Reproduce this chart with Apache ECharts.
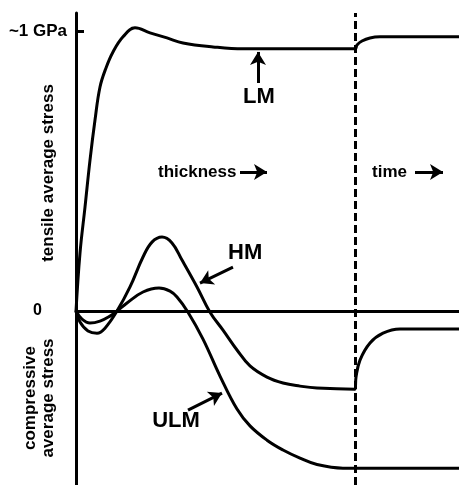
<!DOCTYPE html>
<html>
<head>
<meta charset="utf-8">
<script src="https://cdn.jsdelivr.net/npm/echarts@6/dist/echarts.min.js"></script>
<style>
  html, body { margin: 0; padding: 0; background: #fff; }
  #chart { width: 459px; height: 485px; }
</style>
</head>
<body>
<div id="chart"></div>
<script>
// x: growth (thickness, then time after the dashed line), arbitrary units
// y: average stress in GPa (positive = tensile)
var lmCurve = [
  [0, 0], [4, 0.207], [9, 0.371], [14, 0.539], [19, 0.682], [24, 0.800],
  [30, 0.868], [37, 0.925], [47, 0.979], [59, 1.011], [74, 0.993], [91, 0.975],
  [107, 0.957], [137, 0.943], [167, 0.936], [279, 0.936],
  [281, 0.95], [286, 0.964], [294, 0.975], [304, 0.979], [383, 0.979]
];
var hmCurve = [
  [0, 0], [4, -0.039], [12, -0.071], [21, -0.079], [29, -0.061], [41, 0],
  [54, 0.086], [67, 0.193], [76, 0.246], [86, 0.264], [96, 0.243], [106, 0.182],
  [121, 0.086], [134, -0.004], [147, -0.068], [161, -0.139], [174, -0.196],
  [191, -0.236], [207, -0.257], [224, -0.268], [241, -0.275], [279, -0.279],
  [280, -0.236], [284, -0.175], [294, -0.114], [307, -0.079], [324, -0.064], [383, -0.064]
];
var ulmCurve = [
  [0, 0], [6, -0.029], [14, -0.043], [24, -0.036], [34, -0.018], [41, 0],
  [51, 0.029], [67, 0.068], [83, 0.082], [94, 0.071], [101, 0.05], [112, -0.004],
  [127, -0.100], [144, -0.232], [161, -0.350], [174, -0.410], [191, -0.461],
  [207, -0.496], [224, -0.525], [241, -0.548], [267, -0.561], [383, -0.561]
];
var thicknessEnd = 279;
var yTicks = [0, 1];

var font = 'Liberation Sans, Arial, sans-serif';

// arrows pointing at the curves / along the axes: [from, to]
var arrows = [
  [[182, 0.814], [182, 0.925]],    // LM
  [[157, 0.157], [124, 0.100]],    // HM
  [[112, -0.354], [146, -0.293]],  // ULM
  [[164, 0.496], [191, 0.496]],    // thickness
  [[339, 0.496], [367, 0.496]]     // time
];

function curve(name, data) {
  return {
    name: name,
    type: 'line',
    data: data,
    smooth: 0.4,
    symbol: 'none',
    lineStyle: { color: '#000', width: 3 },
    z: 3
  };
}

function txt(text, x, y, size, rot, align) {
  return {
    type: 'text',
    x: x, y: y,
    rotation: rot || 0,
    style: {
      text: text,
      fill: '#000',
      font: 'bold ' + size + 'px ' + font,
      textAlign: align || 'center',
      textVerticalAlign: 'middle'
    }
  };
}

var chart = echarts.init(document.getElementById('chart'));
var lm = curve('LM', lmCurve);
lm.markLine = {
  silent: true,
  symbol: 'none',
  label: { show: false },
  lineStyle: { color: '#000', width: 3, type: [8, 4] },
  data: [{ xAxis: thicknessEnd }]
};
var hm = curve('HM', hmCurve);
hm.markLine = {
  silent: true,
  symbol: ['none', 'arrow'],
  symbolSize: [12, 13],
  label: { show: false },
  lineStyle: { color: '#000', width: 3, type: 'solid' },
  data: arrows.map(function (a) {
    return [{ coord: a[0] }, { coord: a[1] }];
  })
};

chart.setOption({
  animation: false,
  backgroundColor: '#fff',
  grid: { left: 76, right: 0, top: 13, bottom: 0 },
  xAxis: {
    type: 'value',
    min: 0,
    max: 383,
    axisLine: { onZero: true, lineStyle: { color: '#000', width: 3 } },
    axisTick: { show: false },
    axisLabel: { show: false },
    splitLine: { show: false }
  },
  yAxis: {
    type: 'value',
    min: -0.621,
    max: 1.064,
    axisLine: { show: true, lineStyle: { color: '#000', width: 3 } },
    axisTick: { show: true, inside: true, length: 8, customValues: [1], lineStyle: { color: '#000', width: 3 } },
    axisLabel: {
      customValues: yTicks,
      margin: 9,
      color: '#000',
      fontFamily: font,
      fontWeight: 'bold',
      fontSize: 17,
      formatter: function (v) { return v === 1 ? '~1 GPa' : '{z|0}'; },
      rich: { z: { fontFamily: font, fontWeight: 'bold', fontSize: 16, color: '#000', padding: [0, 25, 0, 0] } }
    },
    splitLine: { show: false }
  },
  graphic: [
    txt('tensile average stress', 48, 173, 17, Math.PI / 2),
    txt('compressive', 30, 398, 17, Math.PI / 2),
    txt('average stress', 48, 398, 17, Math.PI / 2),
    txt('thickness', 158, 172, 17, 0, 'left'),
    txt('time', 372, 172, 17, 0, 'left'),
    txt('LM', 259, 97, 22),
    txt('HM', 228, 253, 22, 0, 'left'),
    txt('ULM', 176, 421, 22)
  ],
  series: [lm, hm, curve('ULM', ulmCurve)]
});
</script>
</body>
</html>
